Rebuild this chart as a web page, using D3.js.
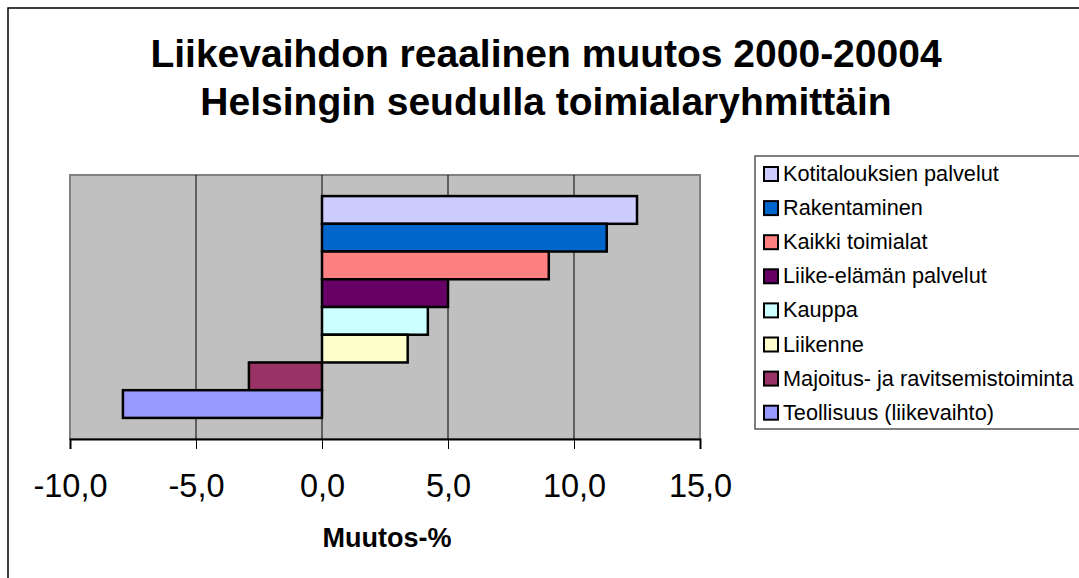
<!DOCTYPE html>
<html>
<head>
<meta charset="utf-8">
<script src="https://cdn.jsdelivr.net/npm/d3@7"></script>
<style>
  html, body { margin: 0; padding: 0; background: #fff; }
  svg { display: block; font-family: "Liberation Sans", Arial, sans-serif; }
</style>
</head>
<body>
<svg id="chart" width="1079" height="578"></svg>
<script>
// data (top to bottom, same order as the legend)
const categories = [
  "Kotitalouksien palvelut",
  "Rakentaminen",
  "Kaikki toimialat",
  "Liike-elämän palvelut",
  "Kauppa",
  "Liikenne",
  "Majoitus- ja ravitsemistoiminta",
  "Teollisuus (liikevaihto)"
];
const values = [12.5, 11.3, 9.0, 5.0, 4.2, 3.4, -2.9, -7.9];
const colors = ["#CCCCFF", "#0066CC", "#FF8080", "#660066", "#CCFFFF", "#FFFFCC", "#993366", "#9999FF"];
const xTicks = [-10, -5, 0, 5, 10, 15];
const titleLines = ["Liikevaihdon reaalinen muutos 2000-20004", "Helsingin seudulla toimialaryhmittäin"];
const xTitle = "Muutos-%";

const svg = d3.select("#chart");

// outer chart frame (runs off the right and bottom edge)
svg.append("rect")
  .attr("x", 8).attr("y", 8)
  .attr("width", 1100).attr("height", 600)
  .attr("fill", "#fff")
  .attr("stroke", "#000")
  .attr("stroke-width", 1.5);

// title
svg.append("g").selectAll("text")
  .data(titleLines)
  .enter()
  .append("text")
  .attr("x", 546)
  .attr("y", (d, i) => 67 + i * 48)
  .attr("text-anchor", "middle")
  .attr("font-size", 39)
  .attr("font-weight", "bold")
  .text(d => d);

// plot area
const plot = { left: 70, right: 700, top: 175, bottom: 439 };

const x = d3.scaleLinear().domain([-10, 15]).range([plot.left, plot.right]);
const y = d3.scaleBand()
  .domain(categories)
  .range([plot.top, plot.bottom])
  .paddingInner(0)
  .paddingOuter(0.76);

svg.append("rect")
  .attr("x", plot.left).attr("y", plot.top)
  .attr("width", plot.right - plot.left)
  .attr("height", plot.bottom - plot.top)
  .attr("fill", "#C0C0C0")
  .attr("stroke", "#808080")
  .attr("stroke-width", 2);

// vertical grid lines
svg.append("g").selectAll("line")
  .data(xTicks.slice(1, -1))
  .enter()
  .append("line")
  .attr("x1", d => x(d)).attr("x2", d => x(d))
  .attr("y1", plot.top).attr("y2", plot.bottom)
  .attr("stroke", "#000")
  .attr("stroke-width", 1);

// bars
svg.append("g").selectAll("rect")
  .data(categories)
  .enter()
  .append("rect")
  .attr("x", (d, i) => x(Math.min(0, values[i])))
  .attr("y", d => y(d))
  .attr("width", (d, i) => Math.abs(x(values[i]) - x(0)))
  .attr("height", y.bandwidth())
  .attr("fill", (d, i) => colors[i])
  .attr("stroke", "#000")
  .attr("stroke-width", 2.5);

// x axis with finnish decimal comma
const fi = d3.formatLocale({ decimal: ",", thousands: " ", grouping: [3], currency: ["", " €"], minus: "-" });
const xAxis = d3.axisBottom(x)
  .tickValues(xTicks)
  .tickFormat(fi.format(".1f"))
  .tickSize(10)
  .tickPadding(25);

const gx = svg.append("g")
  .attr("transform", `translate(0,${plot.bottom})`)
  .call(xAxis);
gx.select(".domain").attr("stroke", "#000").attr("stroke-width", 2);
gx.selectAll(".tick line").attr("stroke", "#000").attr("stroke-width", 1);
gx.selectAll(".tick text")
  .attr("font-family", "'Liberation Sans', Arial, sans-serif")
  .attr("font-size", 32.5)
  .attr("fill", "#000");

svg.append("text")
  .attr("x", (plot.left + plot.right) / 2 + 2)
  .attr("y", 547)
  .attr("text-anchor", "middle")
  .attr("font-size", 27)
  .attr("font-weight", "bold")
  .text(xTitle);

// legend
svg.append("rect")
  .attr("x", 755).attr("y", 156)
  .attr("width", 400).attr("height", 273)
  .attr("fill", "#fff")
  .attr("stroke", "#555")
  .attr("stroke-width", 1.5);

const legend = svg.append("g").selectAll("g")
  .data(categories)
  .enter()
  .append("g")
  .attr("transform", (d, i) => `translate(0,${181 + i * 34.1})`);

legend.append("rect")
  .attr("x", 764).attr("y", -14)
  .attr("width", 14).attr("height", 14)
  .attr("fill", (d, i) => colors[i])
  .attr("stroke", "#000")
  .attr("stroke-width", 2);

legend.append("text")
  .attr("x", 783)
  .attr("y", 0)
  .attr("font-size", 21.7)
  .text(d => d);
</script>
</body>
</html>
